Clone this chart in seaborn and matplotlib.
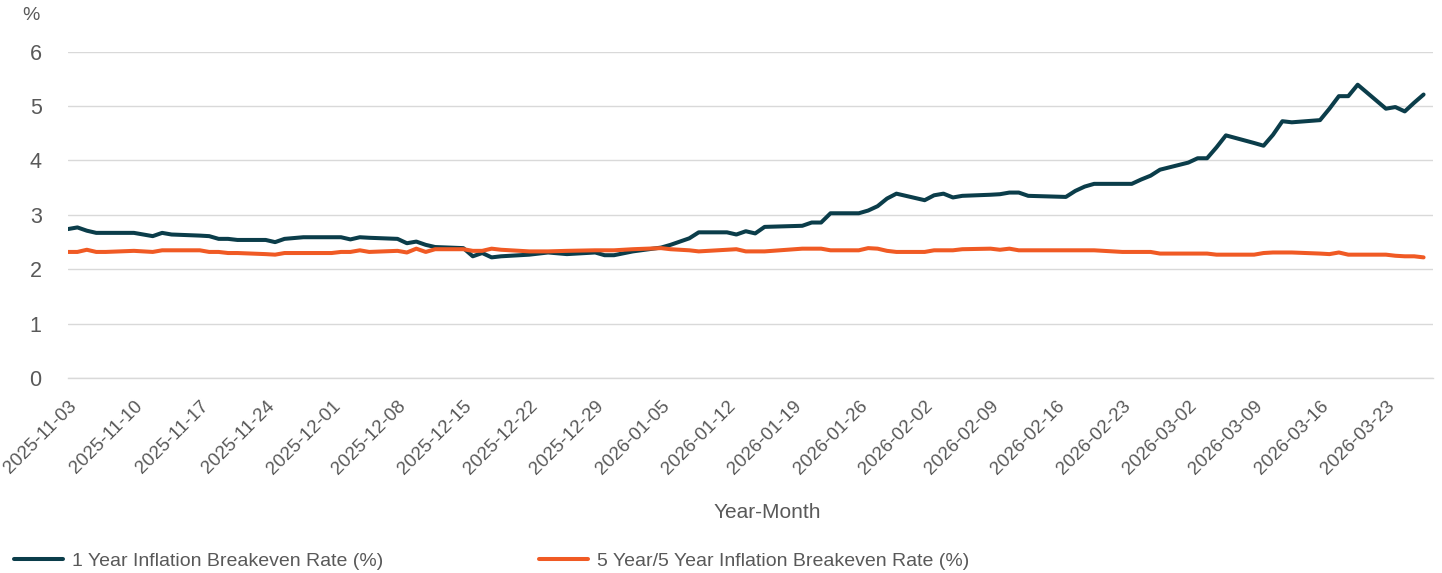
import numpy as np
import pandas as pd
import matplotlib
matplotlib.use("Agg")
import matplotlib.pyplot as plt
import seaborn as sns

# ---------------- data ----------------
start_date = "2025-11-03"
end_date = "2026-03-27"
market_holidays = ["2025-11-27", "2025-12-25", "2026-01-01", "2026-01-19", "2026-02-16"]

one_year = [
    2.74, 2.77, 2.71, 2.67, 2.67,
    2.67, 2.64, 2.61, 2.67, 2.64,
    2.62, 2.61, 2.56, 2.56, 2.54,
    2.54, 2.50, 2.56, 2.59,
    2.59, 2.59, 2.55, 2.59, 2.58,
    2.56, 2.48, 2.51, 2.45, 2.41,
    2.39, 2.24, 2.30, 2.22, 2.24,
    2.27, 2.29, 2.31, 2.28,
    2.31, 2.26, 2.26, 2.33,
    2.40, 2.45, 2.51, 2.57, 2.68,
    2.68, 2.64, 2.70, 2.66, 2.78,
    2.80, 2.86, 2.86, 3.03,
    3.03, 3.08, 3.16, 3.30, 3.39,
    3.27, 3.36, 3.39, 3.32, 3.35,
    3.37, 3.38, 3.41, 3.41, 3.35,
    3.33, 3.44, 3.52, 3.57,
    3.57, 3.57, 3.65, 3.72, 3.83,
    3.96, 4.04, 4.04, 4.24, 4.46,
    4.32, 4.27, 4.47, 4.72, 4.70,
    4.74, 4.95, 5.18, 5.18, 5.39,
    4.95, 4.98, 4.90, 5.06, 5.21,
]

five_year_five_year = [
    2.32, 2.32, 2.36, 2.32, 2.32,
    2.34, 2.33, 2.32, 2.35, 2.35,
    2.35, 2.32, 2.32, 2.30, 2.30,
    2.28, 2.27, 2.30, 2.30,
    2.30, 2.32, 2.32, 2.35, 2.32,
    2.34, 2.31, 2.38, 2.32, 2.37,
    2.37, 2.34, 2.34, 2.38, 2.36,
    2.33, 2.33, 2.33, 2.34,
    2.35, 2.35, 2.35, 2.37,
    2.39, 2.37, 2.36, 2.35, 2.33,
    2.36, 2.37, 2.33, 2.33, 2.33,
    2.38, 2.38, 2.38, 2.35,
    2.35, 2.39, 2.38, 2.34, 2.32,
    2.32, 2.35, 2.35, 2.35, 2.37,
    2.38, 2.36, 2.38, 2.35, 2.35,
    2.35, 2.35, 2.35, 2.35,
    2.32, 2.32, 2.32, 2.32, 2.29,
    2.29, 2.29, 2.29, 2.27, 2.27,
    2.27, 2.30, 2.31, 2.31, 2.31,
    2.29, 2.28, 2.31, 2.27, 2.27,
    2.27, 2.25, 2.24, 2.24, 2.22,
]

series_names = ["1 Year Inflation Breakeven Rate (%)",
                "5 Year/5 Year Inflation Breakeven Rate (%)"]
series_colors = ["#0b3d4a", "#f05a24"]
tick_dates = pd.date_range("2025-11-03", "2026-03-23", freq="7D")
y_ticks = [0, 1, 2, 3, 4, 5, 6]
x_title = "Year-Month"
y_unit = "%"

# ---------------- frame ----------------
dates = pd.bdate_range(start_date, end_date)
dates = dates[~dates.isin(pd.to_datetime(market_holidays))]
df = pd.concat([
    pd.DataFrame({"Date": dates, "Value": one_year, "Series": series_names[0]}),
    pd.DataFrame({"Date": dates, "Value": five_year_five_year, "Series": series_names[1]}),
], ignore_index=True)

# ---------------- style ----------------
sns.set_theme(style="white")
plt.rcParams["font.family"] = ["Liberation Sans", "DejaVu Sans"]
text_color = "#595959"
grid_color = "#d9d9d9"

W, H = 1442, 573
fig = plt.figure(figsize=(W / 100, H / 100), dpi=100)
left, right, top, bottom = 68, 1433, 51.5, 378.3
ax = fig.add_axes([left / W, 1 - bottom / H, (right - left) / W, (bottom - top) / H])

sns.lineplot(data=df, x="Date", y="Value", hue="Series",
             palette=dict(zip(series_names, series_colors)),
             linewidth=2.9, ax=ax, legend=False)

ax.set_xlim(pd.Timestamp("2025-11-03"), pd.Timestamp("2026-03-28"))
ax.set_ylim(0, 6)
ax.set_yticks(y_ticks)
ax.set_yticklabels([str(v) for v in y_ticks])
ax.set_xticks(tick_dates)
ax.set_xticklabels([d.strftime("%Y-%m-%d") for d in tick_dates],
                   rotation=45, ha="right", rotation_mode="anchor")

ax.yaxis.grid(True, color=grid_color, linewidth=1)
ax.xaxis.grid(False)
for s in ["left", "top", "right"]:
    ax.spines[s].set_visible(False)
ax.spines["bottom"].set_color(grid_color)
ax.spines["bottom"].set_linewidth(1)

ax.tick_params(axis="x", length=9, width=1, color=grid_color, direction="out",
               labelsize=13.5, labelcolor=text_color, pad=5)
ax.tick_params(axis="y", length=0, labelsize=15.5, labelcolor=text_color, pad=19)

ax.set_ylabel("")
ax.set_xlabel(x_title, fontsize=15, color=text_color)
ax.xaxis.label.set_va("center")
ax.xaxis.set_label_coords((767 - left) / (right - left), (bottom - 512) / (bottom - top))

fig.text(31 / W, 1 - 16 / H, y_unit, ha="center", va="center", fontsize=14, color=text_color)

handles = ax.get_lines()[:2]
leg = fig.legend(handles, series_names, loc="center left",
                 bbox_to_anchor=(14 / W, 1 - 561 / H), ncol=2, frameon=False,
                 fontsize=14, handlelength=2.5, handletextpad=0.5,
                 columnspacing=8.0, borderpad=0, borderaxespad=0)
for t in leg.get_texts():
    t.set_color(text_color)

fig.savefig("out.png", dpi=100)
